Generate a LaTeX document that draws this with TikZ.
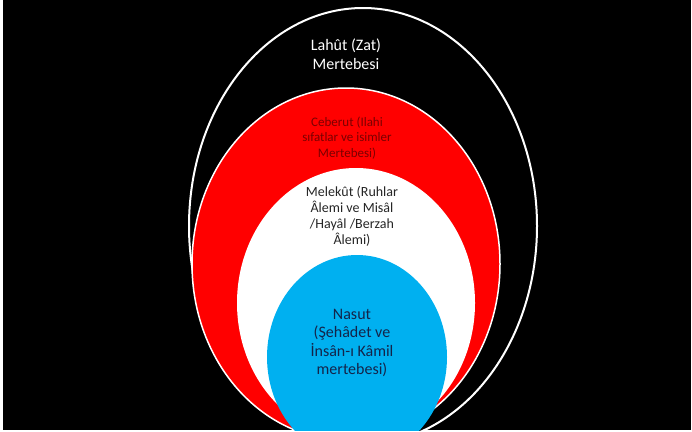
\documentclass[tikz,border=0pt]{standalone}
\usepackage{fontspec}
\setmainfont{Carlito}
\usetikzlibrary{shapes.geometric}
\definecolor{ceblue}{HTML}{00B0F0}
\definecolor{cedred}{HTML}{7A0000}
\definecolor{cenavy}{HTML}{14244A}
\definecolor{cegray}{HTML}{262626}
\tikzset{
  ring/.style={ellipse, inner sep=0pt, line width=2pt},
  lbl/.style={align=center, inner sep=0pt}
}
\begin{document}
\begin{tikzpicture}[x=1pt, y=-1pt]
\useasboundingbox (0,0) rectangle (692,431);
\fill[white] (0,0) rectangle (692,431);
\fill[black] (3,0) rectangle (691,430);
\begin{scope}
\clip (3,0) rectangle (691,430);
\node[ring, draw=white, fill=black, minimum width=348pt, minimum height=436pt] (lahut) at (363,226){};
\node[ring, draw=white, line width=1.5pt, fill=red, minimum width=308pt, minimum height=352pt] (ceberut) at (346,264){};
\node[ring, fill=white, minimum width=238pt, minimum height=270pt] (melekut) at (356,303){};
\node[ring, fill=ceblue, minimum width=180pt, minimum height=204pt] (nasut) at (357,357){};
\end{scope}
\node[lbl, text=white, font=\fontsize{16}{19.5}\selectfont] (tlahut) at (346,54){Lahût (Zat)\\Mertebesi};
\node[lbl, text=cedred, font=\fontsize{13}{15.5}\selectfont] (tceberut) at (347,138){Ceberut (Ilahi\\sıfatlar ve isimler\\Mertebesi)};
\node[lbl, text=cegray, font=\fontsize{14}{16}\selectfont] (tmelekut) at (352,216){Melekût (Ruhlar\\Âlemi ve Misâl\\/Hayâl /Berzah\\Âlemi)};
\node[lbl, text=cenavy, font=\fontsize{16}{18.5}\selectfont] (tnasut) at (352,343){Nasut\\(Şehâdet ve\\İnsân-ı Kâmil\\mertebesi)};
\end{tikzpicture}
\end{document}
